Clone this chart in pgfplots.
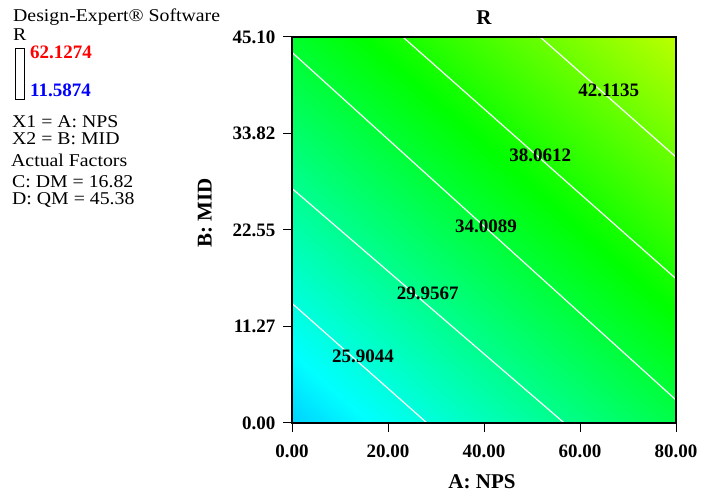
\documentclass[border=0pt]{standalone}
\usepackage{fontspec}
\setmainfont{Liberation Serif}
\newfontfamily\legfont{Liberation Serif}[FakeStretch=1.1]
\usepackage{pgfplots}
\pgfplotsset{compat=1.18}
\pgfplotstableread{
x y z
0 0 21.92
20 0 24.75
40 0 27.59
60 0 30.42
80 0 33.26
0 11.275 25.13
20 11.275 27.97
40 11.275 30.80
60 11.275 33.64
80 11.275 36.47
0 22.55 28.35
20 22.55 31.18
40 22.55 34.02
60 22.55 36.85
80 22.55 39.68
0 33.825 31.56
20 33.825 34.39
40 33.825 37.23
60 33.825 40.06
80 33.825 42.90
0 45.1 34.77
20 45.1 37.61
40 45.1 40.44
60 45.1 43.28
80 45.1 46.11
}\surfdata
\begin{document}
\begin{tikzpicture}[x=1pt,y=1pt]
\path[use as bounding box] (0,0) rectangle (707,497);
\begin{axis}[at={(292pt,74pt)}, anchor=south west, scale only axis,
  width=384pt, height=386pt,
  xmin=0, xmax=80, ymin=0, ymax=45.1,
  xtick={0,20,40,60,80},
  ytick={0,11.27,22.55,33.82,45.1},
  xtick pos=left, ytick pos=left,
  tick align=outside, major tick length=9pt,
  /pgf/number format/.cd, fixed, fixed zerofill, precision=2, assume math mode=true,
  /pgfplots/.cd,
  ticklabel style={font=\fontsize{19}{20}\selectfont\bfseries},
  xticklabel style={yshift=-9pt},
  yticklabel style={xshift=-4pt},
  colormap={de}{rgb255=(0,0,255) rgb255=(0,255,255) rgb255=(0,255,0) rgb255=(255,255,0) rgb255=(255,0,0)},
  point meta min=11.5874, point meta max=62.1274,
  axis on top,
  axis line style={black, line width=1.1pt},
  tick style={black, line width=1pt},
]
\addplot[surf, shader=interp, mesh/rows=5, mesh/cols=5, point meta=explicit]
  table[x=x, y=y, meta=z] {\surfdata};
\addplot[white, line width=1.2pt] coordinates {(0,13.98) (28.12,0)};
\addplot[white, line width=1.2pt] coordinates {(0,27.4) (56.72,0)};
\addplot[white, line width=1.2pt] coordinates {(0,43.3) (80,2.69)};
\addplot[white, line width=1.2pt] coordinates {(23.1,45.1) (80,16.86)};
\addplot[white, line width=1.2pt] coordinates {(51.7,45.1) (80,31.08)};
\node[font=\fontsize{19}{20}\selectfont\bfseries] at (axis cs:66,38.9) {42.1135};
\node[font=\fontsize{19}{20}\selectfont\bfseries] at (axis cs:51.7,31.3) {38.0612};
\node[font=\fontsize{19}{20}\selectfont\bfseries] at (axis cs:40.4,23.0) {34.0089};
\node[font=\fontsize{19}{20}\selectfont\bfseries] at (axis cs:28.3,15.2) {29.9567};
\node[font=\fontsize{19}{20}\selectfont\bfseries] at (axis cs:14.8,7.8) {25.9044};
\end{axis}
% titles and axis labels
\node[font=\fontsize{21}{22}\selectfont\bfseries] at (484,479) {R};
\node[font=\fontsize{21}{22}\selectfont\bfseries] at (482,15) {A: NPS};
\node[font=\fontsize{21}{22}\selectfont\bfseries, rotate=90] at (205,284) {B: MID};
% left legend text
\begin{scope}[every node/.style={anchor=base west, inner sep=0pt, font=\legfont\fontsize{18}{18}\selectfont}]
\node at (13,475) {Design-Expert® Software};
\node at (13,456) {R};
\node at (12,369) {X1 = A: NPS};
\node at (12,352) {X2 = B: MID};
\node at (11,330) {Actual Factors};
\node at (12,309) {C: DM = 16.82};
\node at (12,292) {D: QM = 45.38};
\end{scope}
\draw[black, line width=0.9pt, fill=white] (15.5,398) rectangle (24,449);
\node[anchor=base west, inner sep=0pt, text=red, font=\fontsize{19}{20}\selectfont\bfseries] at (30,438) {62.1274};
\node[anchor=base west, inner sep=0pt, text=blue, font=\fontsize{19}{20}\selectfont\bfseries] at (30,400) {11.5874};
\end{tikzpicture}
\end{document}
